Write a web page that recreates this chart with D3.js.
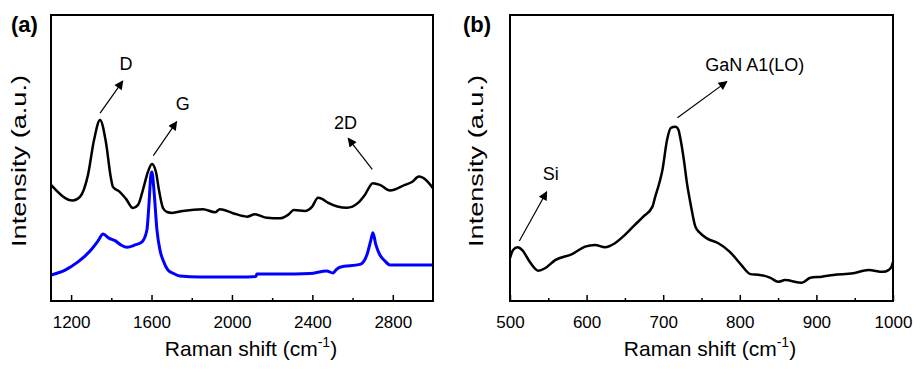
<!DOCTYPE html>
<html>
<head>
<meta charset="utf-8">
<script src="https://cdn.jsdelivr.net/npm/d3@7"></script>
<style>
  body { margin: 0; background: #fff; }
  svg { display: block; font-family: "Liberation Sans", Arial, sans-serif; }
</style>
</head>
<body>
<svg id="chart" width="922" height="374"></svg>
<script>
'use strict'

// panel (a) : Raman shift (cm-1) and intensity (a.u.)
const aBlackX = [1100, 1209, 1244, 1284, 1314, 1344, 1373, 1398, 1408, 1443, 1473, 1508, 1533, 1557, 1582, 1602, 1622, 1637, 1657, 1677, 1702,
  1756, 1856, 1916, 1940, 2005, 2075, 2114, 2174, 2239, 2279, 2308, 2363, 2398, 2428, 2448, 2477, 2572, 2627, 2661, 2701, 2736, 2786, 2860, 2895, 2930, 2965, 3000];
const aBlackY = [40.6, 35.1, 36.4, 44.1, 56.3, 63.3, 55.6, 43.0, 39.9, 38.1, 35.7, 32.5, 33.6, 38.8, 45.1, 47.9, 45.1, 38.8, 32.5, 31.1, 30.8,
  31.5, 32.1, 31.0, 32.1, 30.7, 29.5, 30.3, 29.1, 28.9, 30.1, 31.8, 31.5, 32.9, 36.1, 35.7, 34.4, 32.6, 34.3, 37.1, 41.2, 40.6, 38.6, 40.6, 41.6, 43.5, 42.3, 39.4];

const aBlueX = [1100, 1170, 1234, 1270, 1304, 1334, 1359, 1388, 1418, 1448, 1478, 1518, 1553, 1577, 1587, 1597, 1602, 1612, 1627, 1642, 1657, 1682, 1707,
  1741, 1841, 1940, 2040, 2119, 2124, 2239, 2388, 2472, 2502, 2517, 2537, 2637, 2671, 2691, 2701, 2716, 2736, 2761, 2786, 2885, 3000];
const aBlueY = [9.1, 10.8, 13.7, 15.8, 18.3, 21.0, 23.4, 22.0, 21.1, 19.6, 18.8, 19.6, 20.7, 24.8, 33.6, 44.1, 45.1, 38.8, 24.8, 17.8, 14.3, 10.8, 9.7,
  8.7, 8.4, 8.4, 8.4, 8.6, 9.4, 9.4, 9.6, 10.5, 9.8, 10.8, 11.8, 12.8, 16.1, 21.3, 23.9, 19.6, 16.1, 14.0, 12.6, 12.6, 12.6];

// panel (b)
const bX = [500, 504, 510, 516, 526, 537, 546, 559, 581, 598, 611, 624, 637, 650, 663, 674, 686, 689, 696, 699, 705, 710, 716, 720, 722, 727, 731,
  736, 742, 748, 757, 772, 787, 801, 814, 824, 840, 850, 859, 881, 892, 907, 922, 948, 968, 987, 994, 998, 1000];
const bY = [15.0, 17.8, 18.8, 17.8, 13.6, 10.6, 11.5, 14.3, 16.4, 19.0, 19.6, 18.8, 20.2, 23.1, 26.6, 29.5, 33.0, 35.9, 42.3, 45.8, 56.3, 60.5, 60.9, 59.8, 57.4, 49.3, 41.2,
  33.6, 26.0, 23.8, 21.9, 20.2, 17.2, 12.9, 9.4, 9.2, 8.1, 6.7, 7.3, 6.4, 8.1, 8.5, 9.1, 9.7, 10.8, 10.2, 10.8, 12.0, 13.6];

// tick labels
const aTicks = [1200, 1600, 2000, 2400, 2800];
const aMinor = [1400, 1800, 2200, 2600];
const bTicks = [500, 600, 700, 800, 900, 1000];
const bMinor = [550, 650, 750, 850, 950];

// peak annotations: text, text position, arrow start, arrow end (data units)
const aNotes = [
  {label: "D",  tx: 1473, ty: 80.8, x1: 1344, y1: 65.7, x2: 1457, y2: 76.9, anchor: "middle"},
  {label: "G",  tx: 1755, ty: 66.8, x1: 1609, y1: 50.8, x2: 1725, y2: 62.7, anchor: "middle"},
  {label: "2D", tx: 2565, ty: 60.0, x1: 2698, y1: 46.0, x2: 2578, y2: 56.9, anchor: "middle"}
];
const bNotes = [
  {label: "GaN A1(LO)", tx: 754.8, ty: 80.4, x1: 718.6, y1: 64.1, x2: 783.1, y2: 76.7, anchor: "start"},
  {label: "Si",         tx: 542.7, ty: 42.3, x1: 512.2, y1: 21.0, x2: 547.9, y2: 38.2, anchor: "start"}
];

const svg = d3.select("#chart");
svg.append("rect").attr("width", 922).attr("height", 374).attr("fill", "#fff");

// arrow head marker
svg.append("defs").append("marker")
  .attr("id", "head")
  .attr("viewBox", "0 0 10 10")
  .attr("refX", 9).attr("refY", 5)
  .attr("markerUnits", "userSpaceOnUse")
  .attr("markerWidth", 12).attr("markerHeight", 9)
  .attr("orient", "auto")
  .append("path").attr("d", "M0,0 L10,5 L0,10 Z").attr("fill", "#000");

/**
 * draws one panel: frame, bottom axis with inward ticks, curves and notes
 */
function drawPanel(p) {
  const x = d3.scaleLinear().domain(p.domain).range([p.left, p.right]);
  const y = d3.scaleLinear().domain([0, 100]).range([p.bottom, p.top]);
  const g = svg.append("g");

  const line = d3.line().x(d => x(d[0])).y(d => y(d[1])).curve(d3.curveMonotoneX);
  p.series.forEach(s => {
    g.append("path")
      .datum(d3.zip(s.xs, s.ys))
      .attr("d", line)
      .attr("fill", "none")
      .attr("stroke", s.color)
      .attr("stroke-width", s.width)
      .attr("stroke-linejoin", "round");
  });

  // major and minor ticks pointing into the plot
  g.append("g")
    .attr("transform", `translate(0,${p.bottom})`)
    .call(d3.axisBottom(x).tickValues(p.ticks).tickFormat(d3.format("d")).tickSizeInner(-6).tickSizeOuter(0).tickPadding(15))
    .call(a => a.select(".domain").remove())
    .call(a => a.selectAll("line").attr("stroke-width", 1.5))
    .call(a => a.selectAll("text").attr("font-size", 17).attr("fill", "#000").attr("font-family", null));
  g.append("g")
    .attr("transform", `translate(0,${p.bottom})`)
    .call(d3.axisBottom(x).tickValues(p.minor).tickSizeInner(-3).tickSizeOuter(0).tickFormat(""))
    .call(a => a.select(".domain").remove())
    .call(a => a.selectAll("line").attr("stroke-width", 1.5));

  g.append("rect")
    .attr("x", p.left).attr("y", p.top)
    .attr("width", p.right - p.left).attr("height", p.bottom - p.top)
    .attr("fill", "none").attr("stroke", "#000").attr("stroke-width", 2);

  p.notes.forEach(n => {
    g.append("line")
      .attr("x1", x(n.x1)).attr("y1", y(n.y1))
      .attr("x2", x(n.x2)).attr("y2", y(n.y2))
      .attr("stroke", "#000").attr("stroke-width", 1.2)
      .attr("marker-end", "url(#head)");
    g.append("text")
      .attr("x", x(n.tx)).attr("y", y(n.ty))
      .attr("text-anchor", n.anchor)
      .attr("font-size", 18)
      .text(n.label);
  });

  // axis titles
  const xt = g.append("text")
    .attr("x", p.xTitleX).attr("y", 356)
    .attr("text-anchor", "middle")
    .attr("font-size", 21);
  xt.append("tspan").text("Raman shift (cm");
  xt.append("tspan").attr("dy", -9).attr("font-size", 14).text("-1");
  xt.append("tspan").attr("dy", 9).text(")");

  // the title in the picture is stretched along its length
  g.append("text")
    .attr("transform", `translate(${p.yTitleX},${(p.top + p.bottom) / 2 + 3}) rotate(-90)`)
    .attr("text-anchor", "middle")
    .attr("font-size", 21)
    .attr("textLength", 172).attr("lengthAdjust", "spacingAndGlyphs")
    .text("Intensity (a.u.)");

  g.append("text")
    .attr("x", p.tagX).attr("y", 32)
    .attr("font-size", 22).attr("font-weight", "bold")
    .text(p.tag);
}

drawPanel({
  tag: "(a)", tagX: 11, domain: [1100, 3000], left: 51, right: 433, top: 15, bottom: 301,
  ticks: aTicks, minor: aMinor, xTitleX: 251, yTitleX: 26,
  series: [
    {xs: aBlackX, ys: aBlackY, color: "#000", width: 2.5},
    {xs: aBlueX, ys: aBlueY, color: "#0000ff", width: 3}
  ],
  notes: aNotes
});

drawPanel({
  tag: "(b)", tagX: 463, domain: [500, 1000], left: 510, right: 893, top: 15, bottom: 301,
  ticks: bTicks, minor: bMinor, xTitleX: 710, yTitleX: 483,
  series: [
    {xs: bX, ys: bY, color: "#000", width: 2.5}
  ],
  notes: bNotes
});
</script>
</body>
</html>
